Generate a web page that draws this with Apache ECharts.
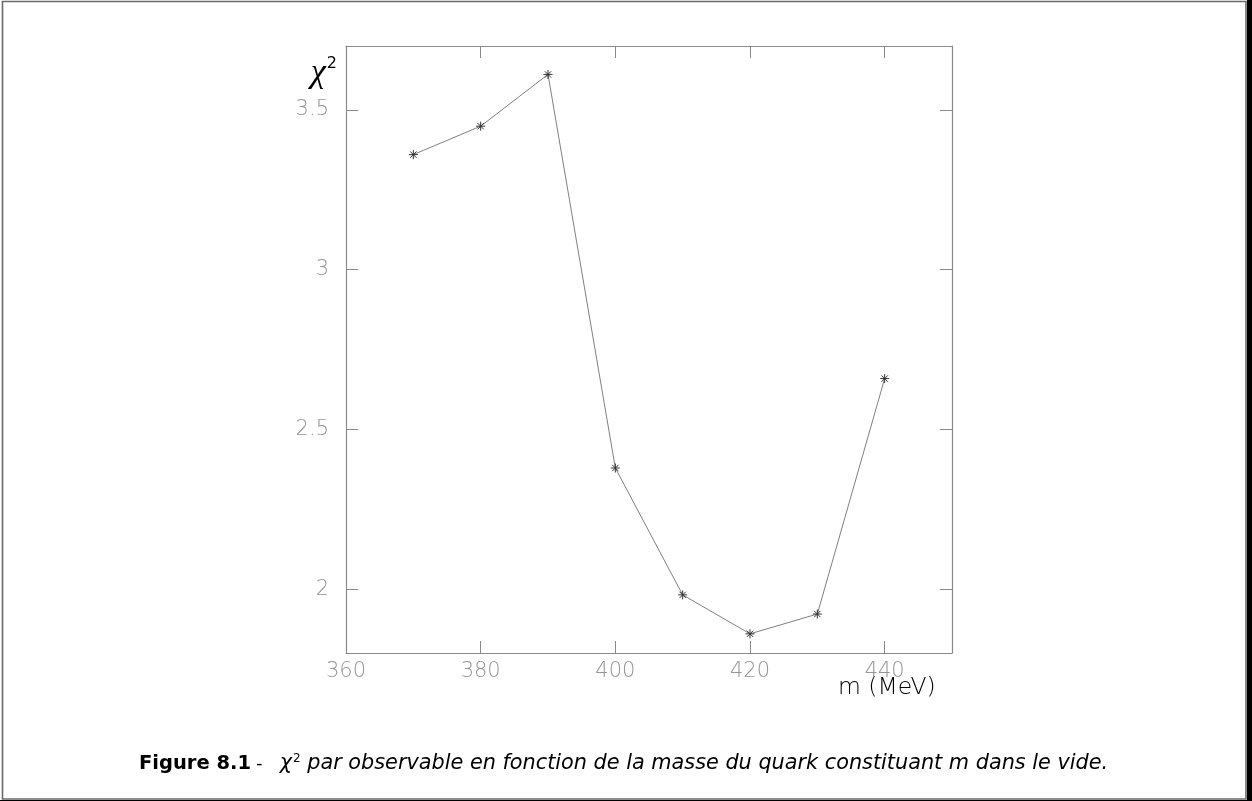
<!DOCTYPE html>
<html>
<head>
<meta charset="utf-8">
<script src="https://cdn.jsdelivr.net/npm/echarts@6/dist/echarts.min.js"></script>
<style>
  html, body { margin: 0; padding: 0; background: #000; }
  #chart { position: absolute; left: 0; top: 0; width: 1247px; height: 800px; background: #fff; }
</style>
</head>
<body>
<div id="chart"></div>
<script>
// Data
const massMeV = [370, 380, 390, 400, 410, 420, 430, 440];
const chi2 = [3.36, 3.449, 3.611, 2.379, 1.982, 1.86, 1.922, 2.659];
const xTicks = [360, 380, 400, 420, 440];
const yTicks = [2, 2.5, 3, 3.5];
const xRange = [360, 450];
const yRange = [1.8, 3.7];

const axisGray = '#8a8a8a';
const labelFont = { color: '#959595', fontFamily: 'DejaVu Sans', fontWeight: 200, fontSize: 21 };

const chart = echarts.init(document.getElementById('chart'), null, { renderer: 'canvas' });

const tickCommon = { show: true, inside: true, length: 12, lineStyle: { color: axisGray, width: 1 } };
const lineCommon = { show: true, onZero: false, lineStyle: { color: axisGray, width: 1.2 } };

const option = {
  animation: false,
  backgroundColor: '#fff',
  title: {
    left: 134,
    top: 748,
    text: '{b|Figure 8.1} {n|-   }{i|χ}{sup|2}{i| par observable en fonction de la masse du quark constituant m dans le vide.}',
    textStyle: {
      fontWeight: 'normal',
      rich: {
        b: { fontFamily: 'DejaVu Sans', fontWeight: 'bold', fontSize: 19.5, color: '#000' },
        n: { fontFamily: 'DejaVu Sans', fontWeight: 'normal', fontSize: 18, color: '#000' },
        i: { fontFamily: 'DejaVu Sans', fontWeight: 'normal', fontStyle: 'italic', fontSize: 20.8, color: '#000' },
        sup: { fontFamily: 'DejaVu Sans', fontWeight: 'normal', fontSize: 12, color: '#000', verticalAlign: 'top', padding: [0, 0, 10, 1] }
      }
    }
  },
  graphic: [
    { type: 'rect', shape: { x: 2.5, y: 1.5, width: 1243.5, height: 797.5 }, style: { fill: 'none', stroke: '#6a6a6a', lineWidth: 1.6 }, silent: true },
    { type: 'text', left: 838, top: 676, silent: true,
      style: { text: 'm (MeV)', fontFamily: 'DejaVu Sans', fontWeight: 200, fontSize: 23.5, fill: '#000' } }
  ],
  grid: { left: 346, top: 46, width: 606, height: 607, containLabel: false },
  xAxis: [
    {
      type: 'value', position: 'bottom', min: xRange[0], max: xRange[1],
      axisLine: lineCommon,
      axisTick: Object.assign({ customValues: xTicks }, tickCommon),
      axisLabel: Object.assign({ customValues: xTicks, margin: 8 }, labelFont),
      splitLine: { show: false }
    },
    {
      type: 'value', position: 'top', min: xRange[0], max: xRange[1],
      axisLine: lineCommon,
      axisTick: Object.assign({ customValues: xTicks }, tickCommon),
      axisLabel: { show: false },
      splitLine: { show: false }
    }
  ],
  yAxis: [
    {
      type: 'value', position: 'left', min: yRange[0], max: yRange[1],
      axisLine: lineCommon,
      axisTick: Object.assign({ customValues: yTicks }, tickCommon),
      axisLabel: Object.assign({ customValues: yTicks, margin: 17 }, labelFont),
      splitLine: { show: false },
      name: '{c|χ}{s|2}', nameLocation: 'end', nameGap: -27,
      nameTextStyle: {
        align: 'right', verticalAlign: 'middle', padding: [0, 9, 0, 0],
        rich: {
          c: { fontFamily: 'Liberation Serif', fontStyle: 'italic', fontSize: 34, color: '#000' },
          s: { fontFamily: 'DejaVu Sans', fontSize: 16, color: '#000', verticalAlign: 'top', padding: [0, 0, 14, 1] }
        }
      }
    },
    {
      type: 'value', position: 'right', min: yRange[0], max: yRange[1],
      axisLine: lineCommon,
      axisTick: Object.assign({ customValues: yTicks }, tickCommon),
      axisLabel: { show: false },
      splitLine: { show: false }
    }
  ],
  series: [
    {
      type: 'line',
      data: massMeV.map((m, i) => [m, chi2[i]]),
      xAxisIndex: 0, yAxisIndex: 0,
      lineStyle: { color: '#808080', width: 1 },
      symbol: 'path://M5,0L5,10M0,5L10,5M1.5,1.5L8.5,8.5M1.5,8.5L8.5,1.5',
      symbolSize: 9,
      itemStyle: { color: 'rgba(0,0,0,0)', borderColor: '#333', borderWidth: 1 },
      showSymbol: true
    }
  ]
};
chart.setOption(option);
</script>
</body>
</html>
